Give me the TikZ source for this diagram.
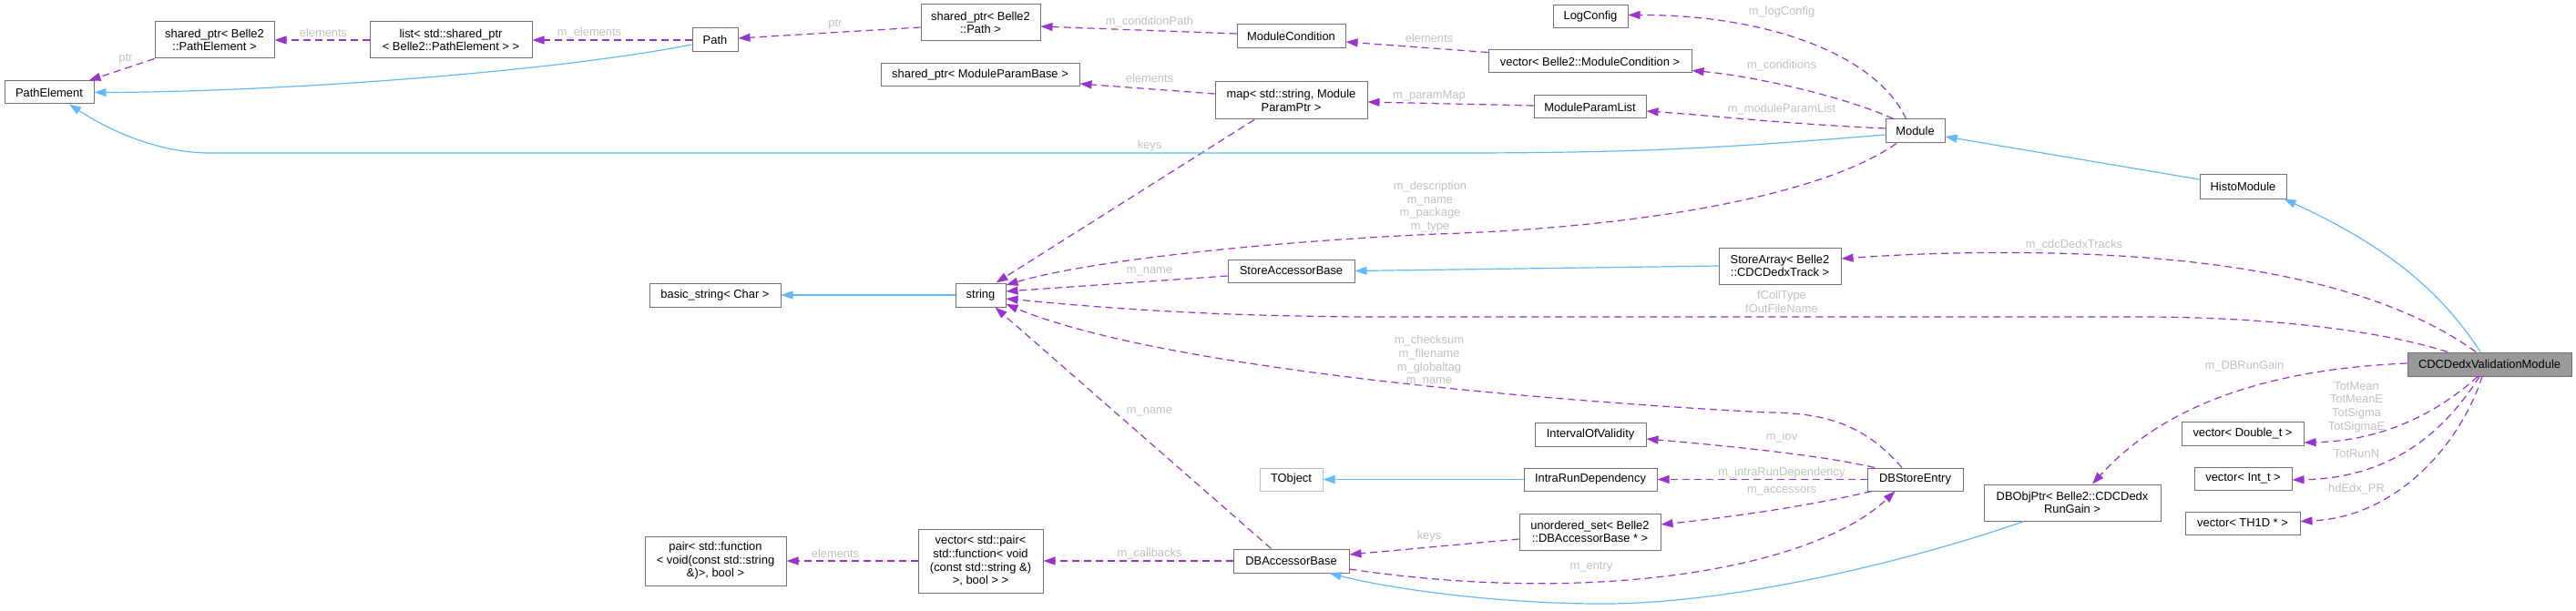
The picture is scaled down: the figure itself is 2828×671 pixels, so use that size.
\documentclass[tikz,border=0pt]{standalone}
\usepackage{fontspec}
\setmainfont{Liberation Sans}
\usetikzlibrary{arrows.meta}
\definecolor{usecol}{HTML}{9A32CD}
\definecolor{inhcol}{HTML}{63B8FF}
\definecolor{lblcol}{HTML}{C0C0C0}
\definecolor{boxcol}{HTML}{707070}
\definecolor{maincol}{HTML}{999999}
\definecolor{extcol}{HTML}{BFBFBF}

\begin{document}
\begin{tikzpicture}[x=1pt, y=-1pt,
    font=\fontsize{12.9}{14.6}\selectfont,
    box/.style={draw=boxcol, line width=1pt, fill=white, inner sep=2pt, align=center},
    usage/.style={draw=usecol, line width=1.2pt, dash pattern=on 8pt off 5pt, -{Triangle[length=13pt, width=9pt]}},
    inherit/.style={draw=inhcol, line width=1.2pt, -{Triangle[length=13pt, width=9pt]}},
    lbl/.style={text=lblcol, inner sep=0pt, align=center}]
    \useasboundingbox (0, 0) rectangle (2828, 671);

    % Path classes
    \node [box, minimum width=98pt, minimum height=25pt] (pe) at (54, 101.5) {PathElement};
    \node [box, minimum width=131pt, minimum height=40pt] (spPE) at (235.5, 44) {shared\_ptr< Belle2\\::PathElement >};
    \node [box, minimum width=178pt, minimum height=40pt] (lst) at (495, 44) {list< std::shared\_ptr\\< Belle2::PathElement > >};
    \node [box, minimum width=50pt, minimum height=26pt] (path) at (785, 44) {Path};
    \node [box, minimum width=131pt, minimum height=40pt] (spPath) at (1076.5, 25) {shared\_ptr< Belle2\\::Path >};
    \node [box, minimum width=119pt, minimum height=26pt] (modcond) at (1417.5, 40) {ModuleCondition};
    \node [box, minimum width=223pt, minimum height=25pt] (vecMC) at (1745.5, 67.5) {vector< Belle2::ModuleCondition >};
    \node [box, minimum width=82pt, minimum height=25pt] (logcfg) at (1746, 18.5) {LogConfig};
    \node [box, minimum width=218pt, minimum height=25pt] (spMPB) at (1076, 82.5) {shared\_ptr< ModuleParamBase >};
    \node [box, minimum width=167pt, minimum height=41pt] (pmap) at (1417.5, 110.5) {map< std::string, Module\\ParamPtr >};
    \node [box, minimum width=123pt, minimum height=25pt] (mpl) at (1745.5, 117.5) {ModuleParamList};
    \node [box, minimum width=65pt, minimum height=26pt] (mod) at (2102.5, 144) {Module};
    \node [box, minimum width=95pt, minimum height=26pt] (histo) at (2462.5, 205) {HistoModule};
    \node [box, fill=maincol, minimum width=180pt, minimum height=26pt] (cdcvm) at (2733, 400) {CDCDedxValidationModule};

    % String classes
    \node [box, minimum width=55pt, minimum height=26pt] (str) at (1076.5, 324) {string};
    \node [box, minimum width=144pt, minimum height=26pt] (bstr) at (785, 324) {basic\_string< Char >};
    \node [box, minimum width=139pt, minimum height=25pt] (sab) at (1417.5, 297.5) {StoreAccessorBase};
    \node [box, minimum width=134pt, minimum height=40pt] (sarr) at (1954, 292) {StoreArray< Belle2\\::CDCDedxTrack >};

    % Database classes
    \node [box, minimum width=122pt, minimum height=26pt] (iov) at (1746, 477) {IntervalOfValidity};
    \node [box, draw=extcol, minimum width=69pt, minimum height=25pt] (tobj) at (1417.5, 526.5) {TObject};
    \node [box, minimum width=146pt, minimum height=25pt] (ird) at (1746, 526.5) {IntraRunDependency};
    \node [box, minimum width=105pt, minimum height=25pt] (dbse) at (2102.5, 526.5) {DBStoreEntry};
    \node [box, minimum width=155pt, minimum height=40pt] (uset) at (1745.5, 584) {unordered\_set< Belle2\\::DBAccessorBase * >};
    \node [box, minimum width=127pt, minimum height=26pt] (dbab) at (1417.5, 616) {DBAccessorBase};
    \node [box, minimum width=194pt, minimum height=40pt] (dbop) at (2275, 552) {DBObjPtr< Belle2::CDCDedx\\RunGain >};
    \node [box, minimum width=137pt, minimum height=70pt] (vpair) at (1076.5, 616) {vector< std::pair<\\std::function< void\\(const std::string \&)\\>, bool > >};
    \node [box, minimum width=155pt, minimum height=54pt] (pair) at (785.5, 616) {pair< std::function\\< void(const std::string\\\&)>, bool >};

    % Vectors of the module
    \node [box, minimum width=134pt, minimum height=26pt] (vdbl) at (2462, 476) {vector< Double\_t >};
    \node [box, minimum width=107pt, minimum height=25pt] (vint) at (2462.5, 525.5) {vector< Int\_t >};
    \node [box, minimum width=126pt, minimum height=25pt] (vth) at (2462, 574.5) {vector< TH1D * >};

    % Path edges
    \draw [usage] (spPE.south west) -- ([xshift=-6pt]pe.north east);
    \draw [usage] (lst.west) -- (spPE.east);
    \draw [usage] (path.west) -- (lst.east);
    \draw [inherit] ([yshift=-5pt]path.west) .. controls (600, 80) and (300, 101) .. (pe.east);
    \draw [usage] ([yshift=-5pt]spPath.west) -- ([yshift=2pt]path.east);
    \draw [usage] ([yshift=3pt]modcond.west) -- ([yshift=-4pt]spPath.east);
    \draw [usage] ([yshift=-3pt]vecMC.north west) -- ([yshift=-6pt]modcond.east);

    % Module edges
    \draw [usage] ([xshift=-10pt]mod.north) .. controls (2060, 60) and (1940, 16) .. ([yshift=2pt]logcfg.east);
    \draw [usage] ([xshift=-24pt]mod.north) .. controls (2030, 108) and (1930, 84) .. ([yshift=-10pt]vecMC.east);
    \draw [usage] ([yshift=3pt]mod.west) .. controls (1960, 136) and (1880, 127) .. ([yshift=-4.5pt]mpl.east);
    \draw [usage] ([yshift=1.5pt]mpl.west) -- ([yshift=-1.5pt]pmap.east);
    \draw [usage] ([yshift=7.5pt]pmap.west) -- ([yshift=-9.5pt]spMPB.east);
    \draw [usage] ([xshift=-40.5pt]pmap.south) -- ([xshift=17pt]str.north);
    \draw [inherit] ([yshift=-4pt]mod.west) .. controls (1900, 162) and (1800, 168) .. (1600, 168) -- (230, 168) .. controls (170, 168) and (115, 140) .. ([xshift=22pt]pe.south);
    \draw [usage] ([xshift=-20.5pt]mod.south) .. controls (2000, 215) and (1800, 250) .. (1577, 257) .. controls (1400, 265) and (1200, 285) .. ([yshift=11pt]str.east);
    \draw [inherit] ([yshift=8pt]histo.west) -- ([yshift=-6pt]mod.east);
    \draw [inherit] ([xshift=-10pt]cdcvm.north) .. controls (2680, 320) and (2620, 270) .. ([xshift=-3pt]histo.south east);

    % String edges
    \draw [usage] ([yshift=-5.5pt]sab.west) -- ([yshift=4pt]str.east);
    \draw [inherit] (sarr.west) -- (sab.east);
    \draw [usage] ([xshift=-15pt]cdcvm.north) .. controls (2640, 330) and (2500, 283) .. (2250, 278) .. controls (2150, 276) and (2080, 280) .. ([yshift=8pt]sarr.east);
    \draw [usage] ([xshift=-46pt]cdcvm.north) .. controls (2620, 365) and (2500, 348) .. (2350, 348) -- (1500, 348) .. controls (1300, 347) and (1180, 335) .. ([yshift=-4pt]str.east);
    \draw [inherit] (str.west) -- (bstr.east);

    % Database edges
    \draw [usage] ([xshift=-14.5pt]dbse.north) .. controls (2050, 470) and (2010, 453) .. (1940, 453) .. controls (1600, 435) and (1250, 395) .. ([yshift=-10pt]str.east);
    \draw [usage] ([xshift=-22pt]dbab.north) -- ([xshift=16pt]str.south);
    \draw [usage] ([xshift=-44.5pt]dbse.north) .. controls (2000, 500) and (1900, 490) .. ([yshift=-5pt]iov.east);
    \draw [usage] (dbse.west) -- (ird.east);
    \draw [inherit] (ird.west) -- (tobj.east);
    \draw [usage] ([xshift=5pt]dbse.south west) .. controls (1990, 555) and (1900, 568) .. ([yshift=8pt]uset.east);
    \draw [usage] ([yshift=-8pt]uset.west) -- ([yshift=7pt]dbab.east);
    \draw [usage] ([yshift=-9pt]dbab.east) .. controls (1750, 665) and (1990, 625) .. ([xshift=-22pt]dbse.south);
    \draw [inherit] ([xshift=-53pt]dbop.south) .. controls (2100, 615) and (1900, 665) .. (1750, 663) .. controls (1630, 662) and (1520, 645) .. ([xshift=42pt]dbab.south);
    \draw [usage] (dbab.west) -- (vpair.east);
    \draw [usage] (vpair.west) -- (pair.east);

    % CDCDedxValidationModule edges
    \draw [usage] ([yshift=1pt]cdcvm.west) .. controls (2500, 405) and (2380, 440) .. ([xshift=22pt]dbop.north);
    \draw [usage] ([xshift=-13pt]cdcvm.south) .. controls (2680, 450) and (2620, 484) .. ([yshift=-10pt]vdbl.east);
    \draw [usage] ([xshift=-11pt]cdcvm.south) .. controls (2680, 480) and (2620, 525) .. ([yshift=-1.5pt]vint.east);
    \draw [usage] ([xshift=-8pt]cdcvm.south) .. controls (2700, 490) and (2630, 568) .. ([yshift=2pt]vth.east);

    % Edge labels
    \node [lbl] (lptr1) at (138, 65) {ptr};
    \node [lbl] (lelem1) at (355, 36) {elements};
    \node [lbl] (lmel) at (647, 36) {m\_elements};
    \node [lbl] (lptr2) at (917, 27) {ptr};
    \node [lbl] (lcondp) at (1262, 24) {m\_conditionPath};
    \node [lbl] (lelem2) at (1569, 42) {elements};
    \node [lbl] (llog) at (1956, 13) {m\_logConfig};
    \node [lbl] (lcond) at (1956, 72) {m\_conditions};
    \node [lbl] (lmpl) at (1956, 120) {m\_moduleParamList};
    \node [lbl] (lpmap) at (1569, 105) {m\_paramMap};
    \node [lbl] (lelem3) at (1262, 86) {elements};
    \node [lbl] (lkeys1) at (1262, 160) {keys};
    \node [lbl] (ldesc) at (1570, 227) {m\_description\\m\_name\\m\_package\\m\_type};
    \node [lbl] (lname1) at (1262, 298) {m\_name};
    \node [lbl] (ltracks) at (2277, 269) {m\_cdcDedxTracks};
    \node [lbl] (lcoll) at (1956, 331.5) {fCollType\\fOutFileName};
    \node [lbl] (lcheck) at (1569, 396.5) {m\_checksum\\m\_filename\\m\_globaltag\\m\_name};
    \node [lbl] (lname2) at (1262, 452) {m\_name};
    \node [lbl] (liov) at (1956, 480) {m\_iov};
    \node [lbl] (lird) at (1956, 519) {m\_intraRunDependency};
    \node [lbl] (lacc) at (1956, 539) {m\_accessors};
    \node [lbl] (lkeys2) at (1569, 589) {keys};
    \node [lbl] (lentry) at (1747, 623) {m\_entry};
    \node [lbl] (lcall) at (1262, 608) {m\_callbacks};
    \node [lbl] (lelem4) at (917, 608) {elements};
    \node [lbl] (lgain) at (2464, 402) {m\_DBRunGain};
    \node [lbl] (ltot) at (2587, 447) {TotMean\\TotMeanE\\TotSigma\\TotSigmaE};
    \node [lbl] (lrun) at (2587, 498) {TotRunN};
    \node [lbl] (lhist) at (2587, 537) {hdEdx\_PR};
\end{tikzpicture}
\end{document}
